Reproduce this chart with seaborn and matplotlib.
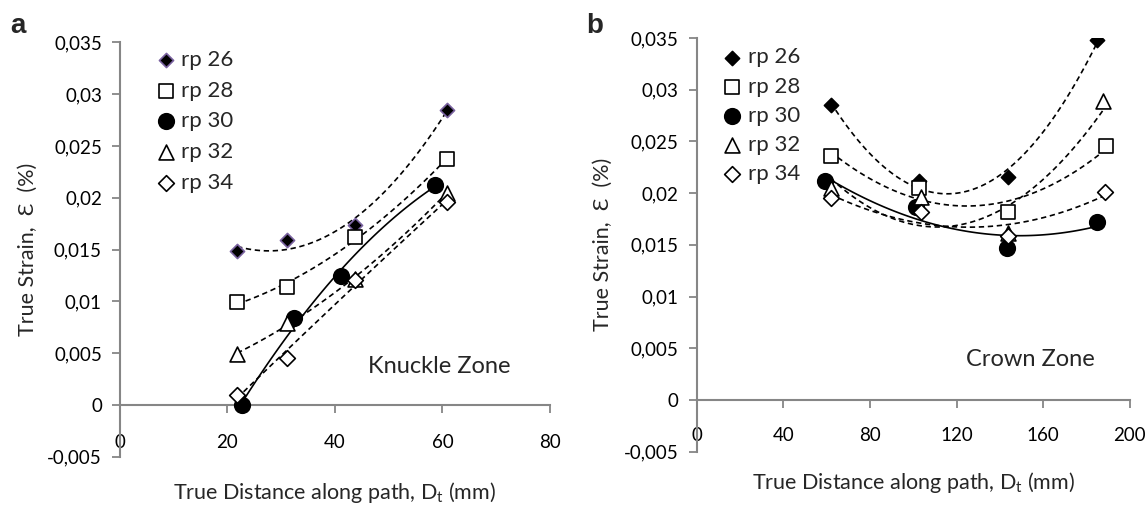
import numpy as np
import pandas as pd
import matplotlib
matplotlib.use("Agg")
import matplotlib.pyplot as plt
import seaborn as sns

# ---- data ----
series = ["rp 26", "rp 28", "rp 30", "rp 32", "rp 34"]

# a: Knuckle Zone
knuckle_x = {
    "rp 26": [21.8, 31.0, 43.8, 60.8],
    "rp 28": [21.8, 31.0, 43.8, 60.8],
    "rp 30": [22.8, 32.4, 41.2, 58.6],
    "rp 32": [21.8, 31.0, 43.8, 60.8],
    "rp 34": [21.8, 31.0, 43.8, 60.8],
}
knuckle_y = {
    "rp 26": [0.0149, 0.0159, 0.0174, 0.0285],
    "rp 28": [0.0099, 0.0114, 0.0162, 0.0237],
    "rp 30": [0.0000, 0.0084, 0.0124, 0.0212],
    "rp 32": [0.0049, 0.0079, 0.0122, 0.0205],
    "rp 34": [0.0010, 0.0045, 0.0121, 0.0196],
}

# b: Crown Zone
crown_x = {
    "rp 26": [61.9, 102.6, 143.8, 185.0],
    "rp 28": [61.9, 102.6, 143.8, 189.3],
    "rp 30": [59.3, 101.4, 143.5, 185.0],
    "rp 32": [61.9, 103.4, 143.8, 187.9],
    "rp 34": [61.9, 103.4, 143.8, 188.5],
}
crown_y = {
    "rp 26": [0.0285, 0.0212, 0.0216, 0.0348],
    "rp 28": [0.0236, 0.0205, 0.0182, 0.0246],
    "rp 30": [0.0212, 0.0187, 0.0147, 0.0172],
    "rp 32": [0.0205, 0.0196, 0.0161, 0.0289],
    "rp 34": [0.0195, 0.0182, 0.0159, 0.0201],
}

y_ticks = [-0.005, 0, 0.005, 0.01, 0.015, 0.02, 0.025, 0.03, 0.035]
y_tick_labels = ["-0,005", "0", "0,005", "0,01", "0,015", "0,02", "0,025", "0,03", "0,035"]
knuckle_xticks = [0, 20, 40, 60, 80]
crown_xticks = [0, 40, 80, 120, 160, 200]

# ---- style ----
sns.set_style("ticks")
plt.rcParams["font.family"] = ["Lato", "DejaVu Sans"]
plt.rcParams["mathtext.default"] = "regular"

axis_grey = "#868686"
dash = (0, (3.2, 2.2))

marker_style = {
    "rp 26": dict(marker="D", s=52, facecolor="black", edgecolor="black"),
    "rp 28": dict(marker="s", s=95, facecolor="white", edgecolor="black"),
    "rp 30": dict(marker="o", s=125, facecolor="black", edgecolor="black"),
    "rp 32": dict(marker="^", s=115, facecolor="white", edgecolor="black"),
    "rp 34": dict(marker="D", s=64, facecolor="white", edgecolor="black"),
}

fig = plt.figure(figsize=(11.48, 5.05), dpi=100)
ax_a = fig.add_axes([0.1045, 0.0956, 0.3745, 0.8206])
ax_b = fig.add_axes([0.607, 0.1055, 0.377, 0.8193])


def draw_panel(ax, xs, ys, first_edge, xlim, xticks, zone_text, zone_xy, xpad):
    for name in series:
        df = pd.DataFrame({"x": xs[name], "y": ys[name]})
        ls = "-" if name == "rp 30" else dash
        sns.regplot(data=df, x="x", y="y", order=2, ci=None, scatter=False,
                    ax=ax, color="black", line_kws=dict(lw=1.2, ls=ls))
    for name in series:
        df = pd.DataFrame({"x": xs[name], "y": ys[name]})
        st = dict(marker_style[name])
        if name == "rp 26":
            st["edgecolor"] = first_edge
        sns.scatterplot(data=df, x="x", y="y", ax=ax, label=name,
                        linewidth=1.2, zorder=3, **st)

    ax.set_xlim(*xlim)
    ax.set_ylim(-0.005, 0.035)
    ax.set_xticks(xticks)
    ax.set_xticklabels([str(t) for t in xticks])
    ax.set_yticks(y_ticks)
    ax.set_yticklabels(y_tick_labels)

    for side in ["top", "right"]:
        ax.spines[side].set_visible(False)
    ax.spines["bottom"].set_position(("data", 0))
    for side in ["left", "bottom"]:
        ax.spines[side].set_color(axis_grey)
        ax.spines[side].set_linewidth(1.5)
    ax.tick_params(axis="both", colors=axis_grey, length=6, width=1.3,
                   labelcolor="black", labelsize=13.5)
    ax.tick_params(axis="x", pad=xpad)
    ax.tick_params(axis="y", pad=7)

    ax.set_xlabel("True Distance along path, D$_t$ (mm)", fontsize=15.5)
    ax.set_ylabel("True Strain,  Ɛ  (%)", fontsize=15.5)
    ax.text(zone_xy[0], zone_xy[1], zone_text, fontsize=17,
            ha="center", va="center")


draw_panel(ax_a, knuckle_x, knuckle_y, "#7a62a0", (0, 80), knuckle_xticks,
           "Knuckle Zone", (59.5, 0.0037), 15)
draw_panel(ax_b, crown_x, crown_y, "black", (0, 200), crown_xticks,
           "Crown Zone", (154, 0.0039), 13.5)

ax_a.xaxis.set_label_coords(0.5, -0.056)
ax_b.xaxis.set_label_coords(0.5, -0.045)
ax_a.yaxis.set_label_coords(-0.19, 0.5)
ax_b.yaxis.set_label_coords(-0.194, 0.5)

ax_a.legend(loc="upper left", bbox_to_anchor=(0.1368, 0.901),
            bbox_transform=fig.transFigure, frameon=False, fontsize=16,
            handlelength=0.8, handletextpad=0.3, labelspacing=0.48,
            borderpad=0, borderaxespad=0)
ax_b.legend(loc="upper left", bbox_to_anchor=(0.630, 0.906),
            bbox_transform=fig.transFigure, frameon=False, fontsize=16,
            handlelength=0.8, handletextpad=0.3, labelspacing=0.41,
            borderpad=0, borderaxespad=0)

fig.text(0.0085, 0.935, "a", fontsize=20, fontweight="bold",
         family=["Liberation Sans", "DejaVu Sans"])
fig.text(0.511, 0.935, "b", fontsize=20, fontweight="bold",
         family=["Liberation Sans", "DejaVu Sans"])

fig.savefig("out.png", dpi=100)
